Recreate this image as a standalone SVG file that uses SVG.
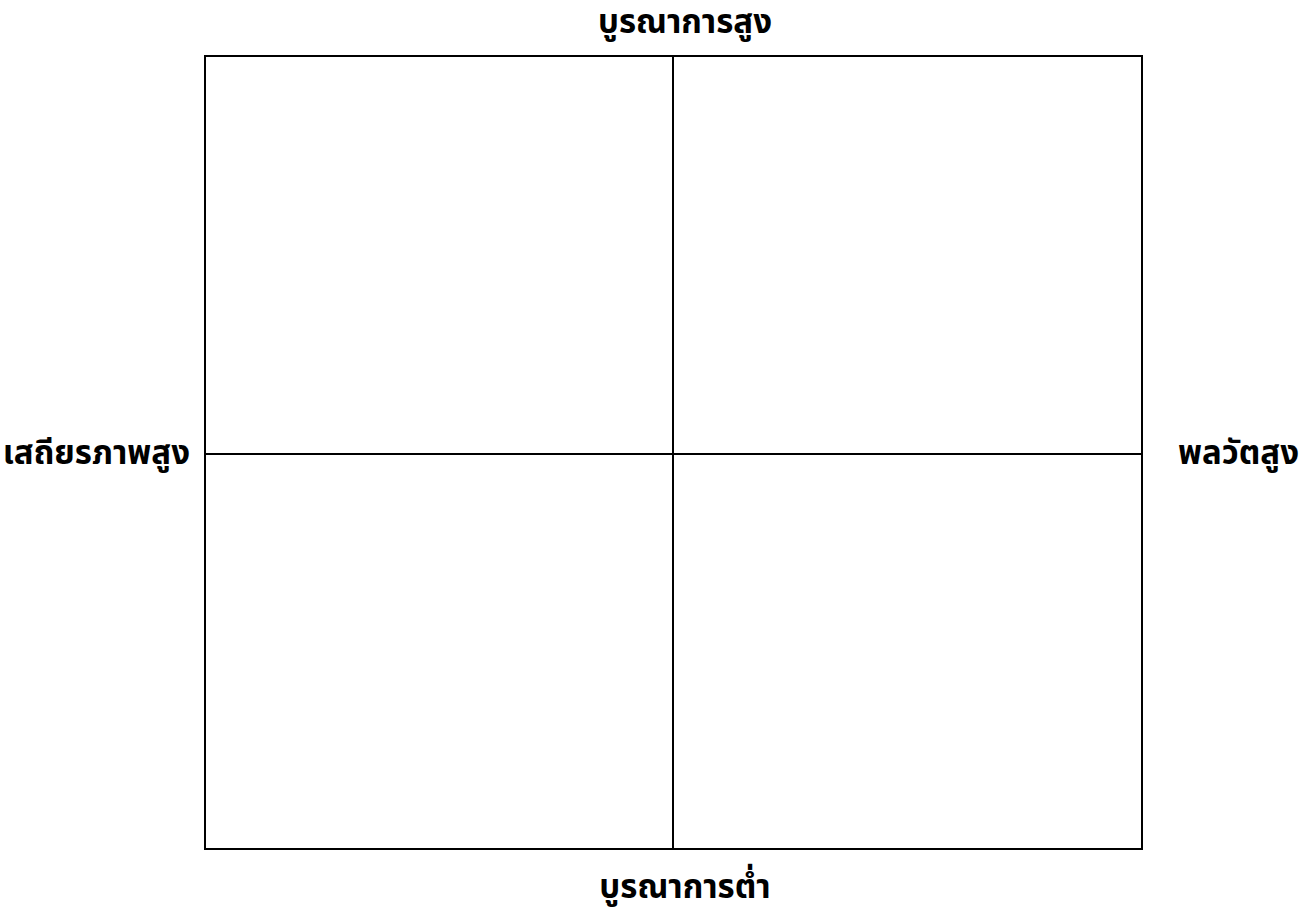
<svg xmlns="http://www.w3.org/2000/svg" width="1308" height="911" viewBox="0 0 1308 911">
<style>
.lbl{font-family:"Noto Sans","Noto Sans Thai","DejaVu Sans",sans-serif;font-weight:bold;font-size:33px;fill:#000}
.ln{stroke:#000;stroke-width:2;fill:none}
</style>
<rect width="1308" height="911" fill="#fff"/>
<g id="grid">
<rect class="ln" x="205" y="56" width="937" height="793"/>
</g>
<g id="connectors">
<line class="ln" x1="673" y1="56" x2="673" y2="849"/>
<line class="ln" x1="205" y1="454" x2="1142" y2="454"/>
</g>
<g id="top"><text class="lbl" x="685" y="33" text-anchor="middle">บูรณาการสูง</text></g>
<g id="left"><text class="lbl" x="190" y="464" text-anchor="end">เสถียรภาพสูง</text></g>
<g id="right"><text class="lbl" x="1178" y="464">พลวัตสูง</text></g>
<g id="bottom"><text class="lbl" x="685" y="898" text-anchor="middle">บูรณาการต่ำ</text></g>
</svg>
